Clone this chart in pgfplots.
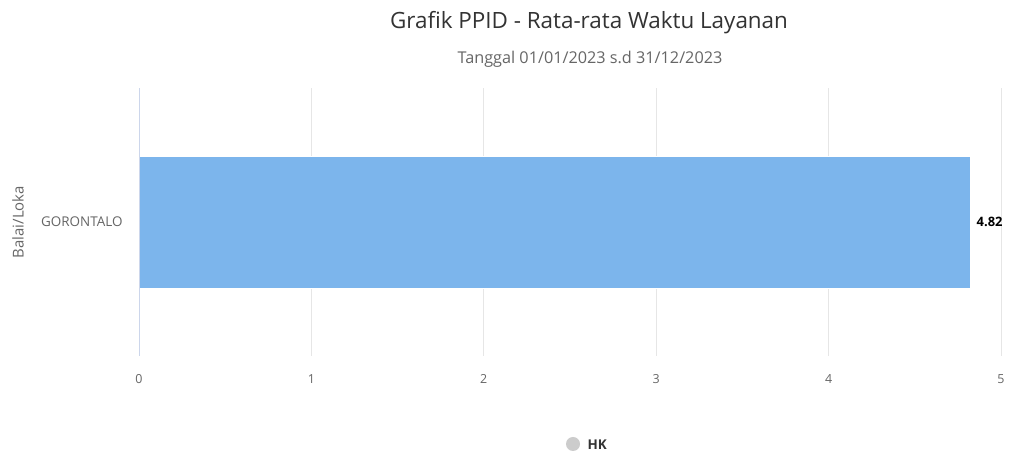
\documentclass[border=0pt]{standalone}
\usepackage{pgfplots}
\pgfplotsset{compat=1.18}
\usepackage{fontspec}
\setmainfont{Open Sans}
\definecolor{barblue}{HTML}{7CB5EC}
\definecolor{gridc}{HTML}{E6E6E6}
\definecolor{axc}{HTML}{CCD6EB}
\definecolor{txtgray}{HTML}{666666}
\definecolor{titlec}{HTML}{333333}
\begin{document}
\begin{tikzpicture}[x=1bp,y=1bp]
\path[use as bounding box,fill=white] (0,0) rectangle (1014,458);
\begin{axis}[
  at={(139bp,102bp)}, anchor=south west,
  scale only axis, width=862bp, height=268bp,
  xbar, bar width=132bp,
  xmin=0, xmax=5, ymin=-0.5, ymax=0.5,
  xtick={0,1,2,3,4,5},
  ytick={0}, yticklabels={GORONTALO},
  xmajorgrids, major grid style={gridc, line width=0.8pt},
  axis line style={draw=none},
  major tick length=0pt,
  tick label style={font=\fontsize{12.5}{14}\selectfont, text=txtgray},
  yticklabel style={font=\fontsize{13.5}{15}\selectfont, xshift=-13bp},
  /pgf/number format/assume math mode=true,
  xticklabel style={yshift=-15bp},
  nodes near coords,
  nodes near coords style={font=\bfseries\fontsize{13}{15}\selectfont, text=black, anchor=west, xshift=3bp, /pgf/number format/fixed, /pgf/number format/precision=2, /pgf/number format/fixed zerofill},
  clip=false,
]
\addplot[fill=barblue, draw=white, line width=0.8pt] coordinates {(4.82,0)};
\draw[axc, line width=0.8pt] (axis cs:0,-0.5) -- (axis cs:0,0.5);
\end{axis}
\node[font=\fontsize{15}{17}\selectfont, text=txtgray, rotate=90] at (18,236) {Balai/Loka};
\node[font=\fontsize{22.5}{26}\selectfont, text=titlec] at (589,435) {Grafik PPID - Rata-rata Waktu Layanan};
\node[font=\fontsize{16.3}{19}\selectfont, text=txtgray] at (590,399) {Tanggal 01/01/2023 s.d 31/12/2023};
\fill[gray!40] (573,14) circle (7);
\node[font=\bfseries\fontsize{13.5}{16}\selectfont, text=titlec, anchor=west] at (584,13) {HK};
\end{tikzpicture}
\end{document}
